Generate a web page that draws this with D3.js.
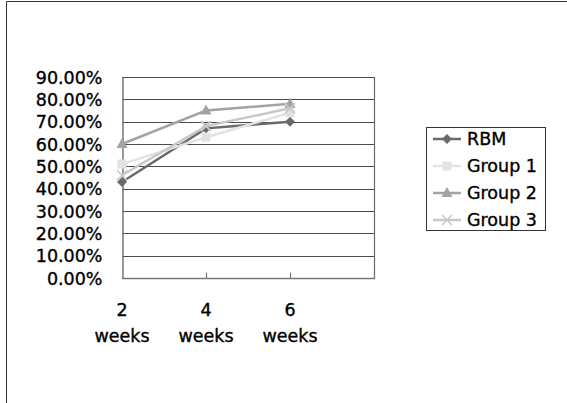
<!DOCTYPE html>
<html>
<head>
<meta charset="utf-8">
<script src="https://cdn.jsdelivr.net/npm/d3@7"></script>
<style>
  html, body { margin: 0; padding: 0; background: #fff; }
  svg { display: block; }
  text { font-family: "DejaVu Sans", sans-serif; fill: #000; stroke: #000; stroke-width: 0.35px; }
</style>
</head>
<body>
<svg id="chart" width="567" height="403"></svg>
<script>
const categories = ["2 weeks", "4 weeks", "6 weeks"];
const seriesNames = ["RBM", "Group 1", "Group 2", "Group 3"];
const rbm    = [0.43, 0.67, 0.70];
const group1 = [0.51, 0.63, 0.74];
const group2 = [0.60, 0.75, 0.78];
const group3 = [0.46, 0.68, 0.76];
const yTicks = [0, 0.1, 0.2, 0.3, 0.4, 0.5, 0.6, 0.7, 0.8, 0.9];

const seriesValues = [rbm, group1, group2, group3];
const seriesStyle = [
  { color: "#6a6a6a", marker: "diamond" },
  { color: "#e2e2e2", marker: "square" },
  { color: "#a3a3a3", marker: "triangle" },
  { color: "#c8c8c8", marker: "cross" }
];

const svg = d3.select("#chart");

// outer frame (top and left visible)
svg.append("path")
  .attr("d", "M6.5,403 V1.5 H567")
  .attr("fill", "none").attr("stroke", "#333").attr("stroke-width", 1);

const plot = { left: 122, right: 374, top: 77, bottom: 278 };

const x = d3.scaleLinear().domain([0, categories.length]).range([plot.left, plot.right]);
const y = d3.scaleLinear().domain([0, 0.9]).range([plot.bottom, plot.top]);

// gridlines
svg.append("g").selectAll("line").data(yTicks.filter(d => d > 0)).join("line")
  .attr("x1", plot.left).attr("x2", plot.right)
  .attr("y1", d => Math.round(y(d)) + 0.5).attr("y2", d => Math.round(y(d)) + 0.5)
  .attr("stroke", "#4a4a4a").attr("stroke-width", 1);

// right border of plot area
svg.append("line")
  .attr("x1", plot.right + 0.5).attr("x2", plot.right + 0.5)
  .attr("y1", plot.top).attr("y2", plot.bottom)
  .attr("stroke", "#666").attr("stroke-width", 1.2);

// y axis
const yAxis = d3.axisLeft(y).tickValues(yTicks).tickSize(0).tickPadding(20)
  .tickFormat(d3.format(".2%"));
const gy = svg.append("g").attr("transform", `translate(${plot.left + 0.5},0)`).call(yAxis);
gy.select(".domain").attr("stroke", "#777").attr("stroke-width", 1.5);
gy.selectAll("text").style("font-size", "17.5px").style("font-family", "DejaVu Sans").attr("dy", "0.35em");

// x axis
const gx = svg.append("g").attr("transform", `translate(0,${plot.bottom + 0.5})`);
gx.append("line").attr("x1", plot.left).attr("x2", plot.right + 1)
  .attr("stroke", "#777").attr("stroke-width", 1.5);
gx.selectAll("line.tick").data(d3.range(1, categories.length + 1)).join("line")
  .attr("class", "tick")
  .attr("x1", d => Math.round(x(d)) + 0.5).attr("x2", d => Math.round(x(d)) + 0.5)
  .attr("y1", -6).attr("y2", 0)
  .attr("stroke", "#777").attr("stroke-width", 1.2);
const xl = gx.selectAll("text").data(categories).join("text")
  .attr("text-anchor", "middle")
  .style("font-size", "17.5px");
xl.append("tspan").attr("x", (d, i) => x(i)).attr("y", 37).text(d => d.split(" ")[0]);
xl.append("tspan").attr("x", (d, i) => x(i)).attr("y", 63).text(d => d.split(" ")[1]);

// marker drawing
function drawMarker(g, type, cx, cy, color) {
  if (type === "diamond") {
    g.append("path").attr("d", `M${cx},${cy - 5} L${cx + 5},${cy} L${cx},${cy + 5} L${cx - 5},${cy} Z`).attr("fill", color);
  } else if (type === "square") {
    g.append("rect").attr("x", cx - 4.5).attr("y", cy - 4.5).attr("width", 9).attr("height", 9).attr("fill", color);
  } else if (type === "triangle") {
    g.append("path").attr("d", `M${cx},${cy - 6} L${cx + 5.5},${cy + 4} L${cx - 5.5},${cy + 4} Z`).attr("fill", color);
  } else if (type === "cross") {
    g.append("path").attr("d", `M${cx - 5},${cy - 5} L${cx + 5},${cy + 5} M${cx - 5},${cy + 5} L${cx + 5},${cy - 5}`)
      .attr("stroke", color).attr("stroke-width", 1.5).attr("fill", "none");
  }
}

// series lines
const line = d3.line().x((d, i) => x(i)).y(d => y(d));
seriesValues.forEach((vals, s) => {
  const st = seriesStyle[s];
  const g = svg.append("g");
  g.append("path").datum(vals).attr("d", line)
    .attr("fill", "none").attr("stroke", st.color).attr("stroke-width", 2.5);
  vals.forEach((v, i) => drawMarker(g, st.marker, x(i), y(v), st.color));
});

// legend
const leg = svg.append("g");
leg.append("rect").attr("x", 426.5).attr("y", 127.5).attr("width", 119).attr("height", 103)
  .attr("fill", "#fff").attr("stroke", "#333").attr("stroke-width", 1);
seriesNames.forEach((name, s) => {
  const cy = 139 + s * 27;
  const st = seriesStyle[s];
  leg.append("line").attr("x1", 433).attr("x2", 461).attr("y1", cy).attr("y2", cy)
    .attr("stroke", st.color).attr("stroke-width", 2.5);
  drawMarker(leg, st.marker, 447, cy, st.color);
  leg.append("text").attr("x", 467).attr("y", cy).attr("dy", "0.35em")
    .style("font-size", "17.5px").text(name);
});
</script>
</body>
</html>
